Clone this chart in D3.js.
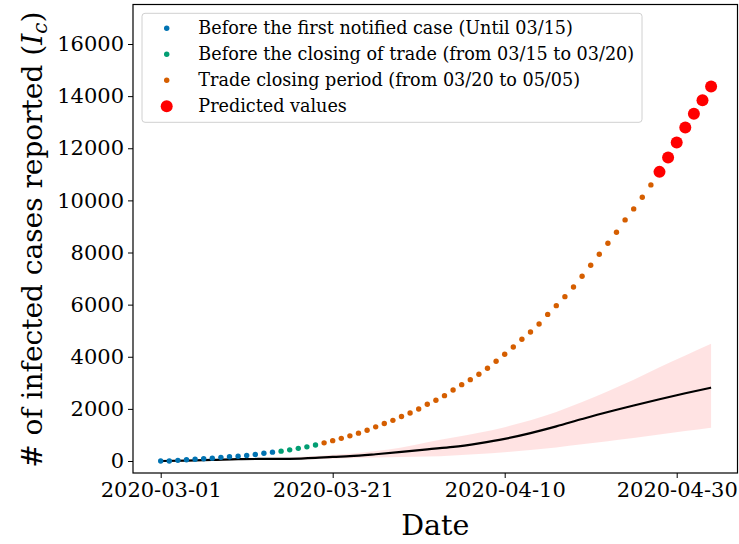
<!DOCTYPE html>
<html>
    <head>
        <meta charset="utf-8">
        <title>Infected cases reported</title>
        <script src="https://d3js.org/d3.v7.min.js"></script>
        <style>
            html, body {
                margin: 0;
                padding: 0;
                background: #FFF;
                overflow: hidden;
            }
            svg text {
                font-family: 'DejaVu Serif', serif;
                fill: #000;
            }
        </style>
    </head>
    <body>
        <svg id="chart" width="739" height="544"></svg>
        <script>
            // observed cases, one value per day starting at 2020-03-01
            const startDate = '2020-03-01';
            const beforeFirstCase = [0, 0, 25, 50, 65, 85, 110, 140, 165, 185, 210, 250, 295, 340];
            const beforeClosing = [378, 428, 486, 543, 613];
            const closingPeriod = [697, 782, 869, 965, 1069, 1183, 1311, 1440, 1561, 1708,
                1843, 1996, 2176, 2330, 2507, 2726, 2929, 3121, 3328, 3558,
                3827, 4096, 4376, 4672, 4952, 5259, 5625, 5962, 6307, 6679,
                7090, 7512, 7934, 8356, 8779, 9251, 9674, 10123, 10595];
            const predicted = [11094, 11643, 12219, 12795, 13321, 13846, 14369];

            // model curve and its band, sampled at these day offsets
            const modelDays = [0, 3, 6, 9, 12, 15, 18, 20, 22, 25, 28, 31, 34, 37, 40, 43, 46, 49, 52, 55, 58, 61, 64];
            const modelMedian = [0, 15, 40, 70, 80, 85, 120, 160, 185, 260, 350, 450, 540, 680, 850, 1070, 1330, 1610, 1880, 2130, 2370, 2600, 2814];
            const modelLow = [0, 8, 20, 35, 45, 50, 70, 90, 105, 130, 150, 170, 215, 270, 340, 420, 520, 640, 760, 880, 1020, 1150, 1280];
            const modelHigh = [0, 25, 60, 100, 120, 135, 190, 240, 280, 380, 520, 720, 900, 1080, 1300, 1560, 1880, 2260, 2680, 3120, 3600, 4050, 4500];

            const xTicks = ['2020-03-01', '2020-03-21', '2020-04-10', '2020-04-30'];
            const yTicks = [0, 2000, 4000, 6000, 8000, 10000, 12000, 14000, 16000];

            const legendLabels = [
                'Before the first notified case (Until 03/15)',
                'Before the closing of trade (from 03/15 to 03/20)',
                'Trade closing period (from 03/20 to 05/05)',
                'Predicted values'
            ];

            const colors = ['#0173b2', '#029e73', '#d55e00', '#ff0000'];

            const parse = d3.utcParse('%Y-%m-%d');
            const t0 = parse(startDate);
            const day = i => d3.utcDay.offset(t0, i);

            // frame of the axes
            const frame = { left: 133, right: 737.5, top: 4.5, bottom: 473 };

            const svg = d3.select('#chart');

            const x = d3.scaleUtc()
                .domain([new Date(t0.getTime() - 3.22 * 864e5), new Date(t0.getTime() + 67.07 * 864e5)])
                .range([frame.left, frame.right]);
            const y = d3.scaleLinear()
                .domain([-460, 17516])
                .range([frame.bottom, frame.top]);

            // series with their day offsets
            let offset = 0;
            const groups = [beforeFirstCase, beforeClosing, closingPeriod, predicted].map((vals, k) => {
                const pts = vals.map((v, i) => ({ date: day(offset + i), value: v }));
                offset += vals.length;
                return { color: colors[k], points: pts, r: k === 3 ? 6 : 2.7 };
            });

            const model = modelDays.map((d, i) => ({
                date: day(d), mid: modelMedian[i], lo: modelLow[i], hi: modelHigh[i]
            }));

            const plot = svg.append('g');

            plot.append('path')
                .datum(model)
                .attr('fill', '#ff0000')
                .attr('fill-opacity', 0.11)
                .attr('d', d3.area()
                    .curve(d3.curveMonotoneX)
                    .x(d => x(d.date))
                    .y0(d => y(d.lo))
                    .y1(d => y(d.hi)));

            plot.append('path')
                .datum(model)
                .attr('fill', 'none')
                .attr('stroke', '#000')
                .attr('stroke-width', 2.2)
                .attr('d', d3.line()
                    .curve(d3.curveMonotoneX)
                    .x(d => x(d.date))
                    .y(d => y(d.mid)));

            groups.forEach(g => {
                plot.append('g')
                    .selectAll('circle')
                    .data(g.points)
                    .join('circle')
                    .attr('cx', d => x(d.date))
                    .attr('cy', d => y(d.value))
                    .attr('r', g.r)
                    .attr('fill', g.color);
            });

            // axes
            const xAxis = svg.append('g')
                .attr('transform', `translate(0,${frame.bottom})`)
                .call(d3.axisBottom(x)
                    .tickValues(xTicks.map(parse))
                    .tickFormat(d3.utcFormat('%Y-%m-%d'))
                    .tickSize(5)
                    .tickSizeOuter(0)
                    .tickPadding(4));
            const yAxis = svg.append('g')
                .attr('transform', `translate(${frame.left},0)`)
                .call(d3.axisLeft(y)
                    .tickValues(yTicks)
                    .tickFormat(d3.format('d'))
                    .tickSize(5)
                    .tickSizeOuter(0)
                    .tickPadding(4));
            [xAxis, yAxis].forEach(a => {
                a.select('.domain').remove();
                a.selectAll('text')
                    .attr('font-family', 'DejaVu Serif')
                    .attr('font-size', 21);
                a.selectAll('line').attr('stroke', '#000').attr('stroke-width', 1);
            });

            svg.append('rect')
                .attr('x', frame.left)
                .attr('y', frame.top)
                .attr('width', frame.right - frame.left)
                .attr('height', frame.bottom - frame.top)
                .attr('fill', 'none')
                .attr('stroke', '#000')
                .attr('stroke-width', 1.2);

            svg.append('text')
                .attr('x', (frame.left + frame.right) / 2)
                .attr('y', 535)
                .attr('text-anchor', 'middle')
                .attr('font-size', 28.5)
                .text('Date');

            const yLabel = svg.append('text')
                .attr('transform', `translate(42,${(frame.top + frame.bottom) / 2 + 1}) rotate(-90)`)
                .attr('text-anchor', 'middle')
                .attr('font-size', 28);
            yLabel.append('tspan').text('# of infected cases reported (');
            yLabel.append('tspan').attr('font-style', 'italic').text('I');
            yLabel.append('tspan').attr('font-style', 'italic').attr('font-size', 20).attr('dy', 5).text('c');
            yLabel.append('tspan').attr('dy', -5).text(')');

            // legend
            const legend = svg.append('g');
            legend.append('rect')
                .attr('x', 142)
                .attr('y', 13.3)
                .attr('width', 500)
                .attr('height', 109)
                .attr('rx', 3)
                .attr('fill', '#fff')
                .attr('fill-opacity', 0.8)
                .attr('stroke', '#d0d0d0')
                .attr('stroke-width', 1);
            const rows = legend.selectAll('g.row')
                .data(legendLabels)
                .join('g')
                .attr('class', 'row')
                .attr('transform', (d, i) => `translate(0,${28.3 + i * 26})`);
            rows.append('circle')
                .attr('cx', 166.7)
                .attr('cy', 0)
                .attr('r', (d, i) => i === 3 ? 6 : 2.7)
                .attr('fill', (d, i) => colors[i]);
            rows.append('text')
                .attr('x', 198.3)
                .attr('dy', '0.35em')
                .attr('font-size', 17.6)
                .text(d => d);
        </script>
    </body>
</html>
